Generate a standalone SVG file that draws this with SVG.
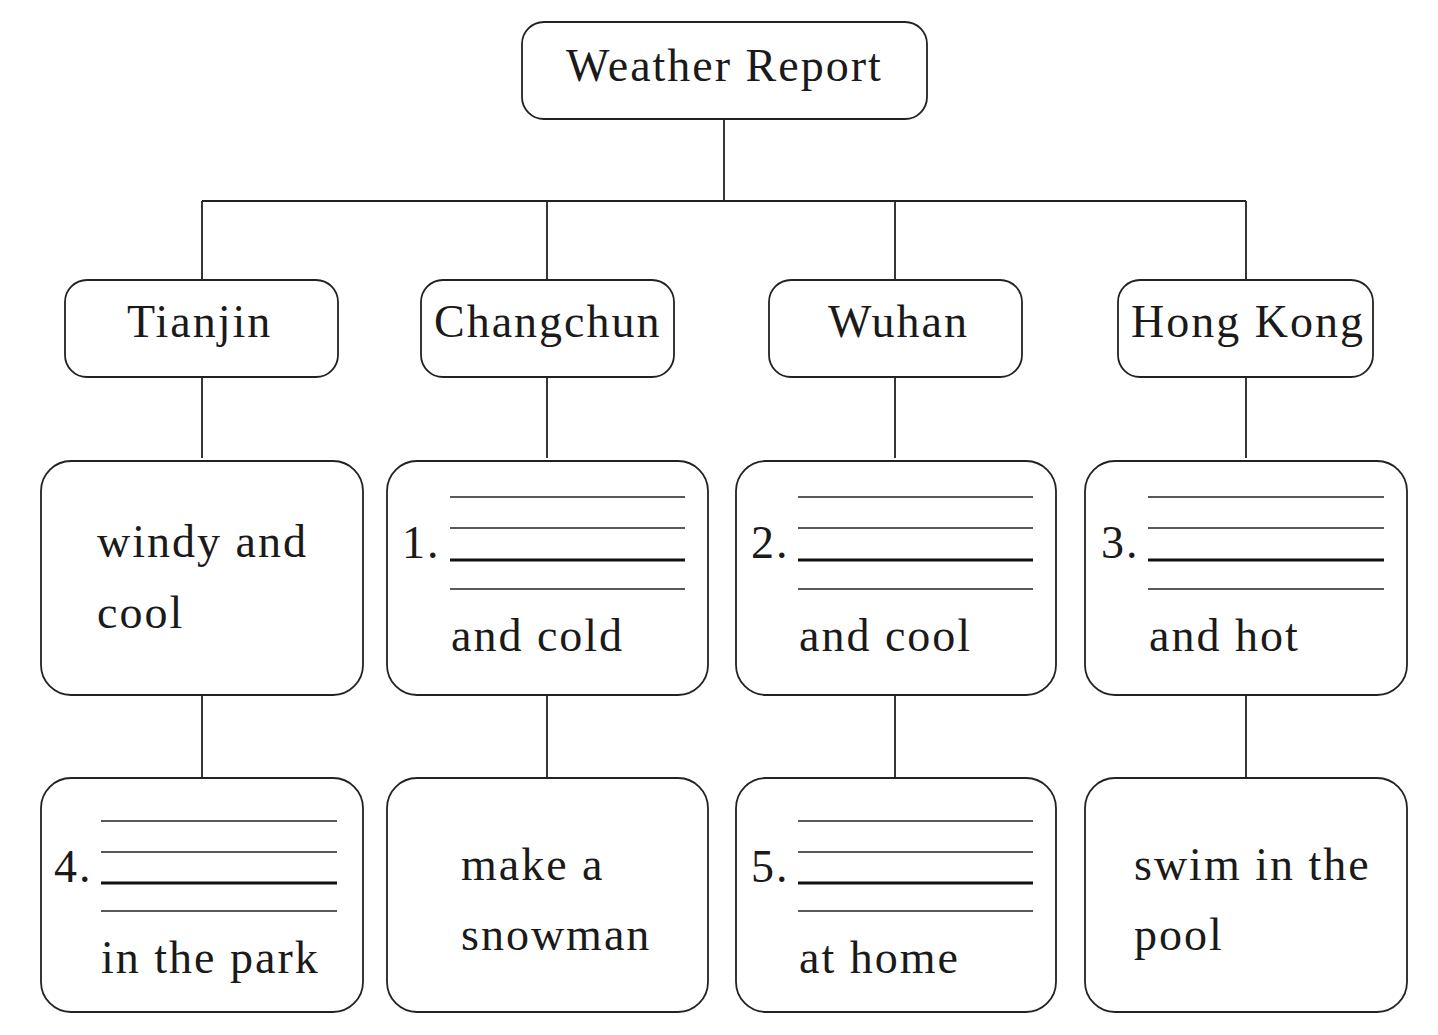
<svg xmlns="http://www.w3.org/2000/svg" width="1438" height="1035" viewBox="0 0 1438 1035">
<style>
.box{fill:#fff;stroke:#222;stroke-width:1.8}
.conn{stroke:#222;stroke-width:1.8;fill:none}
.t{font-family:"Liberation Serif","Times New Roman",serif;font-size:46px;letter-spacing:2px;fill:#1a1a1a}
.ln{stroke:#222;stroke-width:1.5}
.lk{stroke:#111;stroke-width:3}
</style>
<rect width="1438" height="1035" fill="#fff"/>
<g id="connectors" class="conn">
<path d="M724 119V201M202 201H1246M202 201V279M547 201V279M895 201V279M1246 201V279"/>
<path d="M202 377V458M547 377V458M895 377V458M1246 377V458"/>
<path d="M202 695V778M547 695V778M895 695V778M1246 695V778"/>
</g>
<g id="root"><rect class="box" x="522" y="22" width="405" height="97" rx="22"/><text class="t" x="566" y="81">Weather Report</text></g>
<g id="tianjin"><rect class="box" x="65" y="280" width="273" height="97" rx="22"/><text class="t" x="127" y="337">Tianjin</text></g>
<g id="changchun"><rect class="box" x="421" y="280" width="253" height="97" rx="22"/><text class="t" x="434" y="337">Changchun</text></g>
<g id="wuhan"><rect class="box" x="769" y="280" width="253" height="97" rx="22"/><text class="t" x="828" y="337">Wuhan</text></g>
<g id="hongkong"><rect class="box" x="1118" y="280" width="255" height="97" rx="22"/><text class="t" x="1131" y="337">Hong Kong</text></g>
<g id="w1"><rect class="box" x="41" y="461" width="322" height="234" rx="30"/><text class="t" x="97" y="557">windy and</text><text class="t" x="97" y="628">cool</text></g>
<g id="w2"><rect class="box" x="387" y="461" width="321" height="234" rx="30"/><text class="t" x="402" y="558">1.</text><line class="ln" x1="450" y1="497" x2="685" y2="497"/><line class="ln" x1="450" y1="528" x2="685" y2="528"/><line class="lk" x1="450" y1="560" x2="685" y2="560"/><line class="ln" x1="450" y1="589" x2="685" y2="589"/><text class="t" x="451" y="651">and cold</text></g>
<g id="w3"><rect class="box" x="736" y="461" width="320" height="234" rx="30"/><text class="t" x="751" y="558">2.</text><line class="ln" x1="798" y1="497" x2="1033" y2="497"/><line class="ln" x1="798" y1="528" x2="1033" y2="528"/><line class="lk" x1="798" y1="560" x2="1033" y2="560"/><line class="ln" x1="798" y1="589" x2="1033" y2="589"/><text class="t" x="799" y="651">and cool</text></g>
<g id="w4"><rect class="box" x="1085" y="461" width="322" height="234" rx="30"/><text class="t" x="1101" y="558">3.</text><line class="ln" x1="1148" y1="497" x2="1384" y2="497"/><line class="ln" x1="1148" y1="528" x2="1384" y2="528"/><line class="lk" x1="1148" y1="560" x2="1384" y2="560"/><line class="ln" x1="1148" y1="589" x2="1384" y2="589"/><text class="t" x="1149" y="651">and hot</text></g>
<g id="a1"><rect class="box" x="41" y="778" width="322" height="234" rx="30"/><text class="t" x="54" y="882">4.</text><line class="ln" x1="101" y1="821" x2="337" y2="821"/><line class="ln" x1="101" y1="852" x2="337" y2="852"/><line class="lk" x1="101" y1="883" x2="337" y2="883"/><line class="ln" x1="101" y1="911" x2="337" y2="911"/><text class="t" x="101" y="973">in the park</text></g>
<g id="a2"><rect class="box" x="387" y="778" width="321" height="234" rx="30"/><text class="t" x="461" y="880">make a</text><text class="t" x="461" y="950">snowman</text></g>
<g id="a3"><rect class="box" x="736" y="778" width="320" height="234" rx="30"/><text class="t" x="751" y="882">5.</text><line class="ln" x1="798" y1="821" x2="1033" y2="821"/><line class="ln" x1="798" y1="852" x2="1033" y2="852"/><line class="lk" x1="798" y1="883" x2="1033" y2="883"/><line class="ln" x1="798" y1="911" x2="1033" y2="911"/><text class="t" x="799" y="973">at home</text></g>
<g id="a4"><rect class="box" x="1085" y="778" width="322" height="234" rx="30"/><text class="t" x="1134" y="880">swim in the</text><text class="t" x="1134" y="950">pool</text></g>
</svg>
